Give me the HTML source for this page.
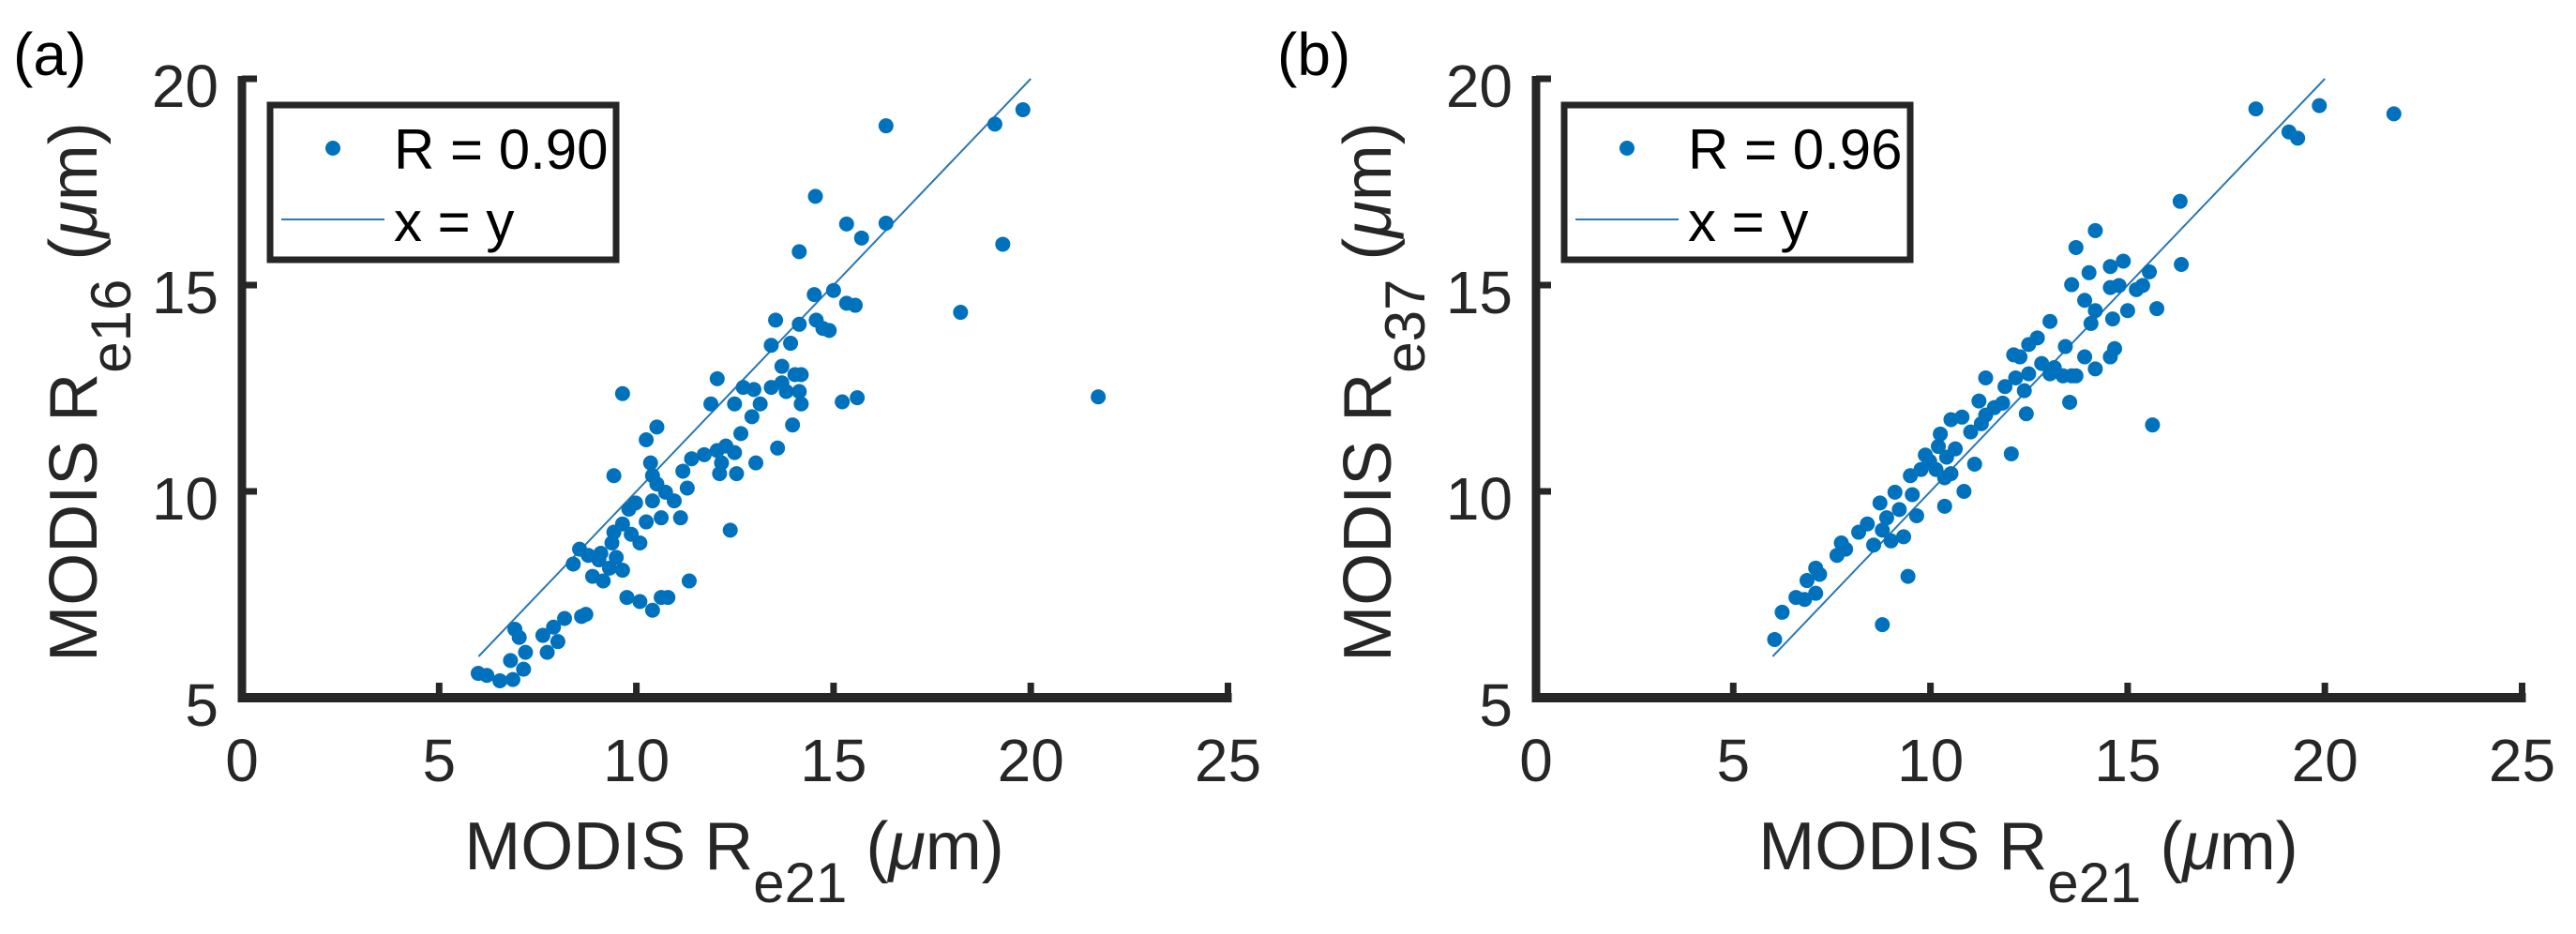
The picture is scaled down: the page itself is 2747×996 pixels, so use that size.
<!DOCTYPE html>
<html><head><meta charset="utf-8"><style>
html,body{margin:0;padding:0;background:#fff;}
svg{display:block;font-family:"Liberation Sans",Arial,sans-serif;}
</style></head><body>
<svg id="fig" width="2747" height="996" viewBox="0 0 2747 996" xmlns="http://www.w3.org/2000/svg">
<text x="14" y="80" font-size="64" fill="#000">(a)</text>
<text x="1362" y="80" font-size="64" fill="#000">(b)</text>
</svg>
<script>
const xTicks = [0, 5, 10, 15, 20, 25];
const yTicks = [5, 10, 15, 20];
const aX = [5.99,6.21,6.54,6.87,7.14,6.81,7.19,7.03,6.92,7.74,8.01,7.63,7.90,8.18,8.61,8.72,8.40,8.56,8.78,9.05,8.89,9.16,9.32,9.49,9.65,9.10,9.38,9.76,10.09,10.41,10.63,10.80,11.34,12.38,9.43,9.65,9.87,10.09,9.81,9.98,10.25,10.63,10.41,10.52,10.74,10.96,11.12,11.29,10.41,11.18,11.40,11.72,12.05,12.27,12.49,12.16,12.54,12.11,12.65,12.93,13.03,13.58,9.43,10.36,10.25,10.52,11.89,12.05,12.49,12.71,12.98,13.14,13.42,13.69,13.80,14.02,14.18,14.13,14.18,13.96,13.69,13.42,13.91,13.53,14.13,14.51,15.00,15.33,15.55,14.56,14.73,14.89,15.22,15.60,9.65,14.13,14.54,15.33,15.71,16.33,16.33,18.22,19.09,19.29,19.80,21.71];
const aY = [5.59,5.54,5.41,5.44,5.69,5.90,6.10,6.46,6.66,6.10,6.36,6.51,6.71,6.92,6.97,7.02,8.24,8.60,8.45,8.34,7.94,7.83,8.14,8.40,8.09,8.50,8.75,7.43,7.33,7.12,7.43,7.43,7.83,9.06,9.01,9.21,8.96,8.75,9.57,9.72,9.26,9.36,9.77,10.18,9.98,9.77,9.36,10.08,10.38,10.49,10.79,10.89,10.99,11.10,10.94,10.69,10.43,10.43,11.40,11.81,10.69,11.05,10.38,10.69,11.25,11.56,12.12,12.73,12.12,12.52,12.47,12.12,12.52,12.63,12.42,12.83,12.83,12.42,12.12,11.61,13.03,13.54,13.59,14.15,14.05,14.77,14.87,14.56,14.51,14.15,13.95,13.90,12.17,12.27,12.37,15.81,17.15,16.48,16.14,16.50,18.86,14.34,18.90,15.99,19.25,12.29];
const bX = [6.05,6.24,8.78,6.59,6.81,7.09,6.87,7.19,7.09,7.63,7.85,7.74,8.18,8.40,8.56,8.78,9.00,9.32,9.43,8.72,9.10,8.89,9.21,9.65,9.54,9.49,9.76,9.98,9.87,10.20,10.14,10.36,10.52,10.41,10.63,10.25,10.52,10.80,10.85,10.36,11.12,11.02,11.29,11.40,11.23,11.40,11.62,11.83,12.05,12.43,11.89,12.16,12.38,12.49,12.11,12.27,12.49,12.71,12.82,13.03,13.14,13.36,13.58,13.69,13.53,13.42,13.91,14.18,14.56,14.67,13.03,13.69,14.18,13.58,14.02,13.91,14.18,14.07,14.56,14.89,14.62,14.56,14.78,15.00,15.22,15.38,15.55,15.74,16.33,16.36,15.63,18.25,19.09,19.31,19.86,21.75];
const bY = [6.41,7.07,6.77,7.43,7.38,7.53,7.84,7.99,8.14,8.45,8.60,8.75,9.01,9.21,8.70,9.06,8.80,8.90,7.94,9.72,9.98,9.36,9.56,9.41,9.92,10.38,10.53,10.73,10.88,11.09,10.53,10.33,10.43,10.83,11.03,11.39,11.74,11.80,10.00,9.64,10.66,11.44,11.64,11.85,12.19,12.75,12.03,12.14,10.91,11.88,12.54,12.75,12.44,12.85,13.31,13.26,13.56,13.72,13.10,12.85,13.00,12.80,12.80,12.80,12.16,13.51,13.26,12.97,13.26,13.46,14.12,15.91,16.32,15.01,15.30,14.63,14.38,14.07,15.45,15.58,14.18,14.94,14.99,14.38,14.89,14.99,15.32,14.43,17.03,15.50,11.61,19.27,18.71,18.56,19.35,19.15];
const lineRange = [6, 20];
const aLegend = "R = 0.90";
const bLegend = "R = 0.96";

const NS = "http://www.w3.org/2000/svg";
const svg = document.getElementById('fig');
function mk(tag, attrs, parent, text){
  const e = document.createElementNS(NS, tag);
  for (const k in attrs) e.setAttribute(k, attrs[k]);
  if (text !== undefined) e.textContent = text;
  (parent || svg).appendChild(e);
  return e;
}
const BLUE = "#0072BD", AX = "#262626";

function panel(off, xs, ys, legendText, sub, id){
  const x0 = 258 + off, xs1 = 42.06;
  const y5 = 744, ys1 = 44.0;
  const sx = v => x0 + v * xs1;
  const sy = v => y5 - (v - 5) * ys1;
  const g = mk('g', {});
  
  

  const dl = mk('line', {x1: sx(lineRange[0]), y1: sy(lineRange[0]), x2: sx(lineRange[1]), y2: sy(lineRange[1]), stroke: "#2a78b5", 'stroke-width': 2}, g);
  
  

  for (let i = 0; i < xs.length; i++){
    const c = mk('circle', {cx: sx(xs[i]), cy: sy(ys[i]), r: 8, fill: BLUE}, g);
    
    
  }

  const ya = mk('line', {x1: x0, y1: sy(20) - 3, x2: x0, y2: y5 + 5, stroke: AX, 'stroke-width': 9}, g);
  
  
  const xa = mk('line', {x1: x0 - 4, y1: y5, x2: sx(25) + 4, y2: y5, stroke: AX, 'stroke-width': 10}, g);
  
  

  xTicks.forEach(t => {
    if (t > 0) mk('line', {x1: sx(t), y1: y5, x2: sx(t), y2: y5 - 16, stroke: AX, 'stroke-width': 7}, g);
    const tl = mk('text', {x: sx(t), y: 833, 'font-size': 64, 'text-anchor': 'middle', fill: '#262626'}, g, String(t));
    
    
  });
  yTicks.forEach(t => {
    if (t > 5) mk('line', {x1: x0, y1: sy(t), x2: x0 + 16, y2: sy(t), stroke: AX, 'stroke-width': 7}, g);
    const tl = mk('text', {x: x0 - 25, y: sy(t) + 30, 'font-size': 64, 'text-anchor': 'end', fill: '#262626'}, g, String(t));
    
    
  });

  const xl = mk('text', {x: 783 + off, y: 927, 'font-size': 72, 'text-anchor': 'middle', fill: '#262626'}, g);
  
  
  mk('tspan', {}, xl, 'MODIS R');
  mk('tspan', {'font-size': 60, dy: 35}, xl, 'e21');
  mk('tspan', {dy: -35}, xl, ' (');
  mk('tspan', {'font-style': 'italic'}, xl, 'μ');
  mk('tspan', {}, xl, 'm)');

  const yl = mk('text', {x: 0, y: 0, 'font-size': 72, 'text-anchor': 'middle', fill: '#262626', transform: `translate(${103 + off},418) rotate(-90)`}, g);
  
  
  mk('tspan', {}, yl, 'MODIS R');
  mk('tspan', {'font-size': 60, dy: 36}, yl, sub);
  mk('tspan', {dy: -36}, yl, ' (');
  mk('tspan', {'font-style': 'italic'}, yl, 'μ');
  mk('tspan', {}, yl, 'm)');

  const lg = mk('g', {}, g);
  
  
  mk('rect', {x: 288 + off, y: 112, width: 369, height: 165, fill: '#fff', stroke: AX, 'stroke-width': 7}, lg);
  const lm = mk('circle', {cx: 355 + off, cy: 158, r: 8, fill: BLUE}, lg);
  
  
  const lt1 = mk('text', {x: 420 + off, y: 180, 'font-size': 60, fill: '#000'}, lg, legendText);
  
  
  const ll = mk('line', {x1: 300 + off, y1: 234, x2: 410 + off, y2: 234, stroke: "#2a78b5", 'stroke-width': 2}, lg);
  
  
  const lt2 = mk('text', {x: 420 + off, y: 257, 'font-size': 60, fill: '#000'}, lg, 'x = y');
  
  
}
panel(0, aX, aY, aLegend, 'e16', 'panel-a');
panel(1380, bX, bY, bLegend, 'e37', 'panel-b');
</script>
</body></html>
